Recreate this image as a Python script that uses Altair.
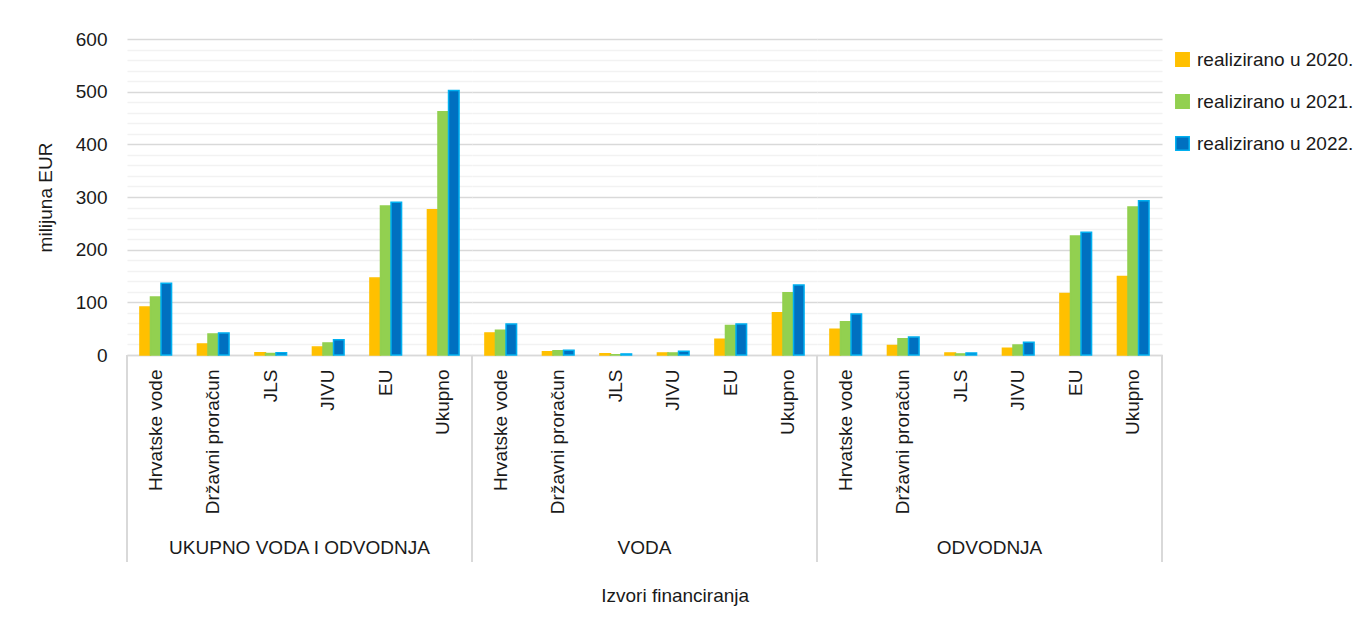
import altair as alt
import pandas as pd

groups = ["UKUPNO VODA I ODVODNJA", "VODA", "ODVODNJA"]
sources = ["Hrvatske vode", "Državni proračun", "JLS", "JIVU", "EU", "Ukupno"]
years = ["realizirano u 2020.", "realizirano u 2021.", "realizirano u 2022."]

# values in milijuna EUR, per group, per year, in the order of `sources`
ukupno_2020 = [91, 21, 4.5, 15, 146, 276]
ukupno_2021 = [110, 40, 3, 23, 283, 462]
ukupno_2022 = [136, 42, 4.5, 29, 290, 502]

voda_2020 = [42, 6, 2.5, 4, 30, 80]
voda_2021 = [47, 8, 0.5, 4, 56, 118]
voda_2022 = [59, 9, 2, 7, 59, 133]

odvodnja_2020 = [49, 18, 4, 13, 117, 149]
odvodnja_2021 = [63, 31, 2, 19, 226, 281]
odvodnja_2022 = [78, 34, 4, 24, 233, 293]

fills = ["#FFC000", "#92D050", "#0070C0"]
strokes = ["#FFC000", "#92D050", "#00B0F0"]

series = {
    groups[0]: [ukupno_2020, ukupno_2021, ukupno_2022],
    groups[1]: [voda_2020, voda_2021, voda_2022],
    groups[2]: [odvodnja_2020, odvodnja_2021, odvodnja_2022],
}

rows = []
for g in groups:
    for yr, vals in zip(years, series[g]):
        for s, v in zip(sources, vals):
            rows.append({"grupa": g, "izvor": s, "godina": yr, "vrijednost": v})
df = pd.DataFrame(rows)

W, H = 345, 316
EXT = 207
FONT = "Liberation Sans"
TXT = "#1a1a1a"
FS = 19

bars = alt.Chart().mark_bar(strokeWidth=1.5).encode(
    x=alt.X(
        "izvor:N",
        sort=sources,
        title=None,
        scale=alt.Scale(paddingInner=0.45, paddingOuter=0.225),
        axis=alt.Axis(
            labelAngle=-90,
            labelPadding=14,
            ticks=False,
            grid=False,
            domainColor="#d9d9d9",
            domainWidth=1.5,
        ),
    ),
    xOffset=alt.XOffset(
        "godina:N", sort=years, scale=alt.Scale(paddingInner=0, paddingOuter=0)
    ),
    y=alt.Y(
        "vrijednost:Q",
        title="milijuna EUR",
        scale=alt.Scale(domain=[0, 600], nice=False),
        axis=alt.Axis(
            values=list(range(0, 601, 20)),
            labelExpr="datum.value % 100 === 0 ? datum.label : ''",
            ticks=False,
            domain=False,
            labelPadding=20,
            titlePadding=20,
            gridWidth=1.5,
            gridColor={
                "condition": {"test": "datum.value % 100 === 0", "value": "#d9d9d9"},
                "value": "#f2f2f2",
            },
        ),
    ),
    color=alt.Color(
        "godina:N",
        sort=years,
        scale=alt.Scale(domain=years, range=fills),
        legend=alt.Legend(title=None),
    ),
    stroke=alt.Stroke(
        "godina:N",
        sort=years,
        scale=alt.Scale(domain=years, range=strokes),
        legend=alt.Legend(title=None),
    ),
)

rule_left = alt.Chart().mark_rule(color="#d9d9d9", strokeWidth=1.5).encode(
    x=alt.value(0), y=alt.value(H), y2=alt.value(H + EXT)
)
rule_right = alt.Chart().mark_rule(color="#d9d9d9", strokeWidth=1.5).encode(
    x=alt.value(W), y=alt.value(H), y2=alt.value(H + EXT)
)

chart = (
    alt.layer(bars, rule_left, rule_right, data=df)
    .properties(width=W, height=H)
    .facet(
        column=alt.Column(
            "grupa:N",
            sort=groups,
            title=None,
            header=alt.Header(
                labelOrient="bottom",
                labelFontSize=FS,
                labelFont=FONT,
                labelColor=TXT,
                labelPadding=25,
            ),
        ),
        spacing=0,
        bounds="flush",
    )
    .properties(
        title=alt.TitleParams(
            "Izvori financiranja",
            orient="bottom",
            anchor="middle",
            fontSize=FS,
            font=FONT,
            fontWeight="normal",
            color=TXT,
            offset=24,
            dx=-20,
        )
    )
    .configure(font=FONT, padding={"left": 28, "top": 22, "right": 0, "bottom": 0})
    .configure_view(stroke=None)
    .configure_axis(
        labelFontSize=FS,
        titleFontSize=FS,
        labelColor=TXT,
        titleColor=TXT,
        titleFontWeight="normal",
        labelFont=FONT,
        titleFont=FONT,
    )
    .configure_legend(
        orient="none",
        legendX=1046,
        legendY=11,
        padding=0,
        rowPadding=21,
        symbolType="square",
        symbolSize=180,
        symbolStrokeWidth=1.5,
        labelFontSize=FS,
        labelFont=FONT,
        labelColor=TXT,
        labelOffset=5,
    )
)

chart.save("out.html", embed_options={"renderer": "svg", "actions": False})
